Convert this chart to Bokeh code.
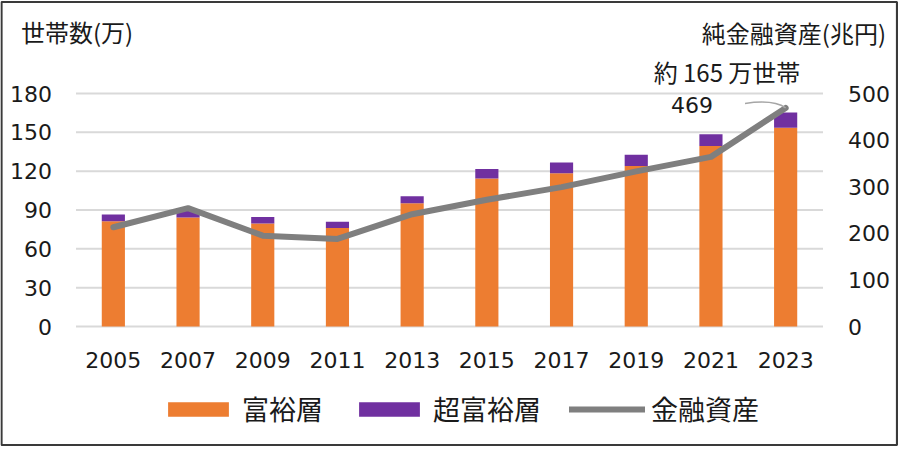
from bokeh.plotting import figure
from bokeh.models import Range1d, Legend, LegendItem, Label, FactorRange, ColumnDataSource
from bokeh.embed import file_html
from bokeh.resources import INLINE
from bokeh.core.properties import value

# ---- data ----
years = ["2005", "2007", "2009", "2011", "2013", "2015", "2017", "2019", "2021", "2023"]
rich = [81.3, 84.2, 79.5, 76.0, 95.3, 114.4, 118.3, 124.0, 139.5, 153.5]     # 富裕層 (万世帯)
ultra = [5.2, 6.1, 5.0, 5.0, 5.4, 7.3, 8.4, 8.7, 9.0, 11.8]                  # 超富裕層 (万世帯)
assets = [213, 254, 195, 188, 241, 272, 299, 333, 364, 469]                  # 純金融資産 (兆円)
left_ticks = [0, 30, 60, 90, 120, 150, 180]
right_ticks = [0, 100, 200, 300, 400, 500]

ORANGE = "#ED7D31"
PURPLE = "#7030A0"
GRAY = "#7F7F7F"
TXT = "#1a1a1a"
CJK = "Noto Sans CJK JP"
NUM = "DejaVu Sans"

# ---- layout geometry (pixels) ----
W, H = 898, 446
X0, DX = 76.0, 74.7          # left edge of category area, pixels per category
Y0, DY = 326.0, 233.0 / 180  # pixel row of value 0, pixels per 万世帯
R = 500 / 180                # right-axis / left-axis scale ratio
n = len(years)
PAD = (W / DX - n) / 2
YLO, YHI = (Y0 - H) / DY, Y0 / DY


def ux(px):
    return (px - X0) / DX


def vy(py):
    return (Y0 - py) / DY


src = ColumnDataSource(dict(years=years, rich=rich, ultra=ultra, assets=assets))

p = figure(x_range=FactorRange(*years, range_padding=PAD, range_padding_units="absolute"),
           y_range=Range1d(YLO, YHI), width=W, height=H, title=None,
           x_axis_location=None, y_axis_location=None,
           output_backend="svg", toolbar_location=None,
           min_border=0, min_border_left=0, min_border_right=0,
           min_border_top=0, min_border_bottom=0)
p.outline_line_color = None
p.background_fill_color = "white"
p.border_fill_color = "white"
for g in p.grid:
    g.visible = False
p.extra_y_ranges = {"right": Range1d(YLO * R, YHI * R)}

# grid lines (left-axis ticks), spanning the category area
p.segment(x0=[0] * len(left_ticks), x1=[n] * len(left_ticks), y0=left_ticks, y1=left_ticks,
          line_color="#D9D9D9", line_width=2)

# bars + line
bars = p.vbar_stack(["rich", "ultra"], x="years", width=0.31, color=[ORANGE, PURPLE],
                    line_width=0, source=src)
ln = p.line("years", "assets", source=src, y_range_name="right", line_width=6,
            line_color=GRAY, line_join="round", line_cap="round")

# tick labels
p.text(x=[ux(52)] * len(left_ticks), y=left_ticks, text=[str(t) for t in left_ticks],
       text_align="right", text_baseline="middle", text_font=value(NUM),
       text_font_size="22px", text_color=TXT)
p.text(x=[ux(848)] * len(right_ticks), y=right_ticks, text=[str(t) for t in right_ticks],
       y_range_name="right", text_align="left", text_baseline="middle",
       text_font=value(NUM), text_font_size="22px", text_color=TXT)
p.text(x=years, y=[vy(359)] * n, text=years, text_align="center", text_baseline="middle",
       text_font=value(NUM), text_font_size="22px", text_color=TXT)

# axis titles
p.add_layout(Label(x=ux(21), y=vy(31), text="世帯数(万)", text_align="left",
                   text_baseline="middle", text_font=CJK, text_font_size="24px",
                   text_color=TXT))
p.add_layout(Label(x=ux(886), y=vy(32), text="純金融資産(兆円)", text_align="right",
                   text_baseline="middle", text_font=CJK, text_font_size="24px",
                   text_color=TXT))

# annotations
total_last = rich[-1] + ultra[-1]
p.add_layout(Label(x=ux(727), y=vy(71), text=f"約 {round(total_last)} 万世帯",
                   text_align="center", text_baseline="middle", text_font=CJK,
                   text_font_size="24px", text_color=TXT))
p.add_layout(Label(x=ux(692), y=vy(104) * R, y_range_name="right", text=str(assets[-1]),
                   text_align="center", text_baseline="middle", text_font=NUM,
                   text_font_size="22px", text_color=TXT))
last = n - 0.5
p.bezier(x0=[ux(745)], y0=[vy(103) * R], x1=[last], y1=[assets[-1]],
         cx0=[ux(765)], cy0=[vy(100) * R], cx1=[ux(778)], cy1=[vy(102) * R],
         y_range_name="right", line_color="#A6A6A6", line_width=1.5)

# legend
legend = Legend(items=[LegendItem(label="富裕層", renderers=[bars[0]]),
                       LegendItem(label="超富裕層", renderers=[bars[1]]),
                       LegendItem(label="金融資産", renderers=[ln])],
                orientation="horizontal", location=(160, 18))
legend.label_text_font = CJK
legend.label_text_font_size = "27px"
legend.label_text_color = TXT
legend.glyph_width = 76
legend.glyph_height = 18
legend.label_standoff = 6
legend.spacing = 28
legend.padding = 0
legend.margin = 0
legend.border_line_color = None
legend.background_fill_alpha = 0
p.add_layout(legend, "center")

# outer frame of the picture
p.quad(left=[ux(1.5)], right=[ux(897)], bottom=[vy(444.5)], top=[vy(1.5)],
       fill_color=None, line_color="#3A3A3A", line_width=2.2)

open("out.html", "w").write(file_html(p, INLINE))
